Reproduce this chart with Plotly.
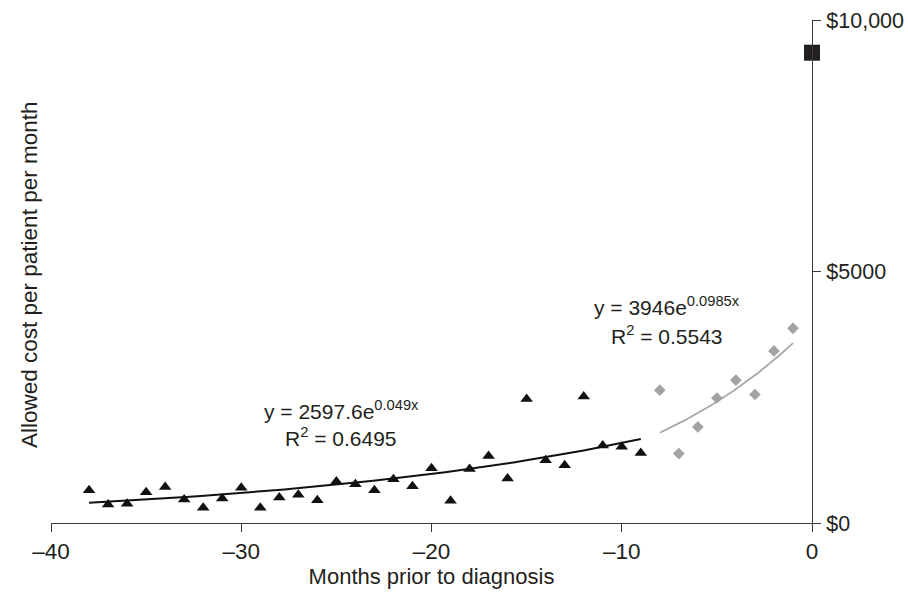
import numpy as np
import plotly.graph_objects as go

# ---- data ----
pre_months = [-38, -37, -36, -35, -34, -33, -32, -31, -30, -29, -28, -27, -26, -25, -24,
              -23, -22, -21, -20, -19, -18, -17, -16, -15, -14, -13, -12, -11, -10, -9]
pre_cost = [650, 370, 385, 610, 715, 465, 305, 485, 700, 305, 505, 560, 450, 825, 770,
            650, 870, 730, 1090, 440, 1075, 1330, 885, 2465, 1250, 1150, 2515, 1540, 1515, 1390]

late_months = [-8, -7, -6, -5, -4, -3, -2, -1]
late_cost = [2640, 1380, 1910, 2485, 2840, 2555, 3420, 3870]

dx_month = [0]
dx_cost = [9350]

# exponential trend lines as printed on the chart: y = a * e^(b x)
fit_pre = {"a": 2597.6, "b": 0.049, "x0": -38, "x1": -9}
fit_late = {"a": 3946.0, "b": 0.0985, "x0": -8, "x1": -1}

x_ticks = [-40, -30, -20, -10, 0]
x_ticktext = ["\u201340", "\u201330", "\u201320", "\u201310", "0"]
y_ticks = [0, 5000, 10000]
y_ticktext = ["$0", "$5000", "$10,000"]

FONT = "Liberation Sans, Arial, Helvetica, sans-serif"
TXT = "#231f20"

def trend(f):
    xs = np.linspace(f["x0"], f["x1"], 80)
    return xs, f["a"] * np.exp(f["b"] * xs)

fig = go.Figure()

tx, ty = trend(fit_pre)
fig.add_trace(go.Scatter(x=tx, y=ty, mode="lines",
                         line=dict(color="#111111", width=2), hoverinfo="skip"))
tx2, ty2 = trend(fit_late)
fig.add_trace(go.Scatter(x=tx2, y=ty2, mode="lines",
                         line=dict(color="#a8a8a8", width=1.8), hoverinfo="skip"))

fig.add_trace(go.Scatter(x=pre_months, y=pre_cost, mode="markers",
                         marker=dict(symbol="triangle-up", size=11, color="#111111")))
fig.add_trace(go.Scatter(x=late_months, y=late_cost, mode="markers",
                         marker=dict(symbol="diamond", size=9, color="#a3a3a3")))
fig.add_trace(go.Scatter(x=dx_month, y=dx_cost, mode="markers", cliponaxis=False,
                         marker=dict(symbol="square", size=16, color="#231f20")))

W, H = 908, 605
ml, mr, mt, mb = 51, 96, 20, 82
pw, ph = W - ml - mr, H - mt - mb

def px2paper(px, py):
    return (px - ml) / pw, (H - mb - py) / ph

anns = []
def add_text(text, px, py, size=21, angle=0):
    x, y = px2paper(px, py)
    anns.append(dict(text=text, x=x, y=y, xref="paper", yref="paper",
                     xanchor="center", yanchor="middle", showarrow=False,
                     textangle=angle, font=dict(family=FONT, size=size, color=TXT)))

add_text("y = 2597.6e<sup>0.049x</sup>", 341, 410, size=21)
add_text("R<sup>2</sup> = 0.6495", 341, 437, size=21)
add_text("y = 3946e<sup>0.0985x</sup>", 667, 306, size=21)
add_text("R<sup>2</sup> = 0.5543", 667, 335, size=21)
add_text("Allowed cost per patient per month", 29, 275, size=22.5, angle=-90)

fig.update_layout(
    width=W, height=H,
    margin=dict(l=ml, r=mr, t=mt, b=mb, autoexpand=False),
    paper_bgcolor="white", plot_bgcolor="white",
    showlegend=False,
    font=dict(family=FONT, size=21, color=TXT),
    annotations=anns,
    xaxis=dict(range=[-40, 0], showgrid=False, zeroline=False, automargin=False,
               showline=True, linecolor="#3a3a3a", linewidth=1,
               ticks="outside", ticklen=8, tickcolor="#3a3a3a", tickwidth=1,
               tickvals=x_ticks, ticktext=x_ticktext,
               tickfont=dict(family=FONT, size=22.5, color=TXT),
               title=dict(text="Months prior to diagnosis",
                          font=dict(family=FONT, size=22, color=TXT), standoff=5)),
    yaxis=dict(range=[0, 10000], side="right", showgrid=False, zeroline=False,
               automargin=False,
               showline=True, linecolor="#3a3a3a", linewidth=1,
               ticks="outside", ticklen=8, tickcolor="#3a3a3a", tickwidth=1,
               tickvals=y_ticks, ticktext=y_ticktext, ticklabelstandoff=1,
               tickfont=dict(family=FONT, size=21.5, color=TXT)),
)

fig.write_html("out.html")
